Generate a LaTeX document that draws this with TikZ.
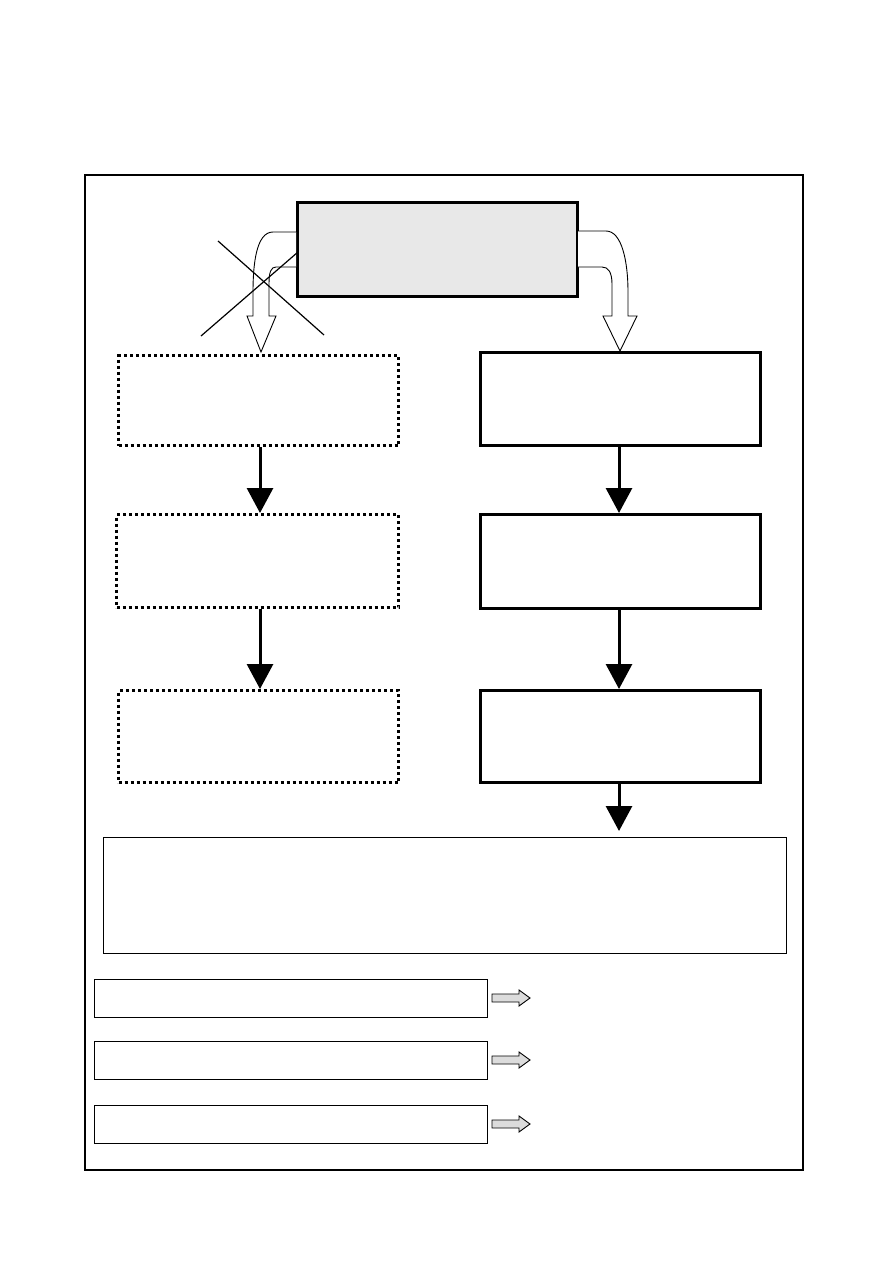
\documentclass[tikz,border=0pt]{standalone}
\usetikzlibrary{arrows.meta}
\definecolor{topgray}{HTML}{E8E8E8}
\definecolor{arrgray}{HTML}{DCDCDC}
\begin{document}
\begin{tikzpicture}[x=1pt,y=-1pt,
  solidbox/.style={draw,line width=2.5pt,inner sep=0pt,anchor=north west},
  dotbox/.style={draw,line width=3pt,dash pattern=on 3pt off 3pt,inner sep=0pt,anchor=north west},
  thinbox/.style={draw,line width=1pt,inner sep=0pt,anchor=north west},
  flowarrow/.style={line width=3pt,-{Triangle[width=26pt,length=25pt]}},
  hollow/.style={draw,line width=0.9pt,fill=white,line join=miter},
  crossline/.style={line width=1.2pt},
  blockarrow/.style={draw,line width=0.9pt,fill=arrgray}
]
\useasboundingbox (0,0) rectangle (893,1263);
% outer frame
\draw[line width=1.2pt] (85,175) rectangle (803,1170);

% top box
\node[solidbox,line width=3pt,fill=topgray,minimum width=280pt,minimum height=94pt] (top) at (296,201) {};

% left dotted boxes
\node[dotbox,minimum width=280pt,minimum height=90pt] (l1) at (117,354) {};
\node[dotbox,minimum width=282pt,minimum height=93pt] (l2) at (115,513) {};
\node[dotbox,minimum width=280pt,minimum height=92pt] (l3) at (117,689) {};

% right solid boxes
\node[solidbox,minimum width=280pt,minimum height=93pt] (r1) at (479,351) {};
\node[solidbox,minimum width=280pt,minimum height=94pt] (r2) at (479,513) {};
\node[solidbox,minimum width=280pt,minimum height=92pt] (r3) at (479,689) {};

% big bottom box
\node[thinbox,minimum width=683pt,minimum height=116pt] (big) at (103,837) {};

% small bottom boxes
\node[thinbox,line width=1.2pt,minimum width=393pt,minimum height=38pt] (s1) at (94,979) {};
\node[thinbox,line width=1.2pt,minimum width=393pt,minimum height=38pt] (s2) at (94,1041) {};
\node[thinbox,line width=1.2pt,minimum width=393pt,minimum height=38pt] (s3) at (94,1105) {};

% vertical arrows
\draw[flowarrow] (l1.south -| 260,0) -- (l2.north -| 260,0);
\draw[flowarrow] (l2.south -| 260,0) -- (l3.north -| 260,0);
\draw[flowarrow] (r1.south -| 619,0) -- (r2.north -| 619,0);
\draw[flowarrow] (r2.south -| 619,0) -- (r3.north -| 619,0);
\coordinate (rend) at (619,831);
\draw[flowarrow] (r3.south -| 619,0) -- (rend);

% left hollow curved arrow
\draw[hollow] (296,232) -- (273,232) .. controls (256,232) and (253,265) .. (253,292) -- (253,316)
  -- (247,316) -- (261,352) -- (276,316) -- (269,316) -- (269,284)
  .. controls (269,272) and (271,267) .. (276,267) -- (296,267);
% cross over it
\draw[crossline] (218,241) -- (324,335);
\draw[crossline] (201,336) -- (298,252);

% right hollow curved arrow
\draw[hollow] (578,231) -- (606,231) .. controls (622,231) and (628,262) .. (628,292) -- (628,316)
  -- (637,316) -- (620,351) -- (603,316) -- (612,316) -- (612,284)
  .. controls (612,272) and (608,267) .. (602,267) -- (578,267);

% small block arrows
\foreach \yy/\nm in {998/s1,1060/s2,1124/s3}{
  \draw[blockarrow] (492,\yy-4) -- (519,\yy-4) -- (519,\yy-8) -- (530,\yy) -- (519,\yy+8) -- (519,\yy+4) -- (492,\yy+4) -- cycle;
}
\end{tikzpicture}
\end{document}
